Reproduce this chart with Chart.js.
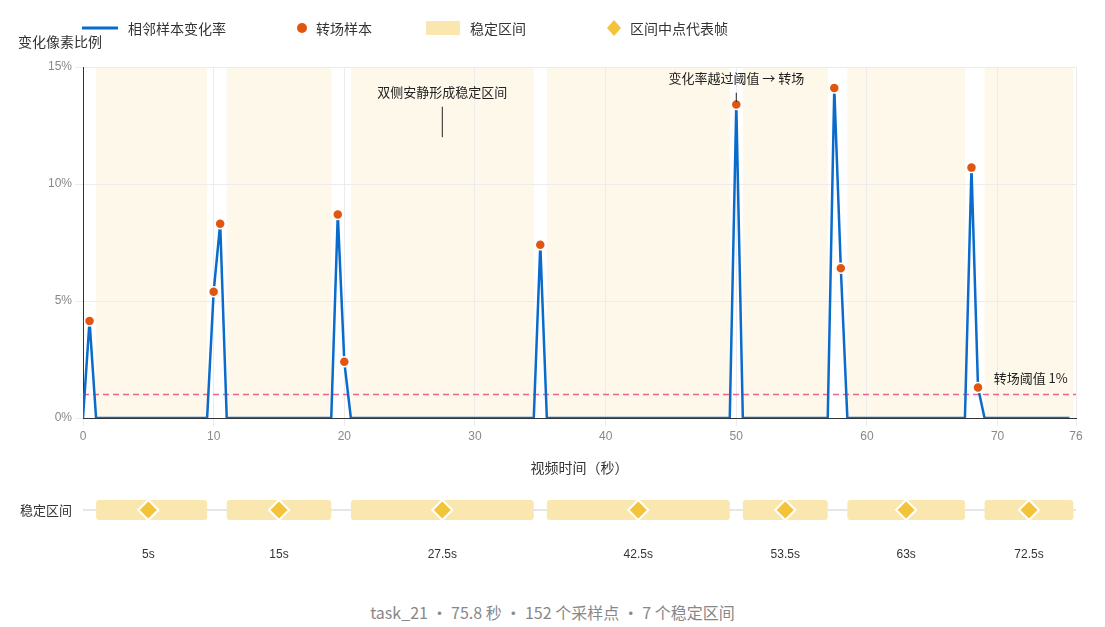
<!DOCTYPE html>
<html>
<head>
<meta charset="utf-8">
<script src="https://cdn.jsdelivr.net/npm/chart.js@4"></script>
<style>
body { margin: 0; background: #fff; font-family: "Noto Sans CJK SC", "Noto Sans", sans-serif; }
#wrap { position: relative; width: 1105px; height: 627px; }
canvas { position: absolute; left: 0; }
#legend { position: absolute; top: 18px; left: 0; width: 1105px; font-size: 14px; color: #333; }
.it { position: absolute; top: 0; height: 20px; line-height: 20px; }
.sw { position: absolute; top: 0; }
#foot { position: absolute; top: 600px; width: 1105px; text-align: center; color: #888; font-size: 16px; }
#ytitle { position: absolute; top: 31px; left: 18px; font-size: 14px; color: #333; }
</style>
</head>
<body>
<div id="wrap">
  <canvas id="main" width="1105" height="480" style="top:0"></canvas>
  <canvas id="strip" width="1105" height="110" style="top:480px"></canvas>
  <div id="ytitle">变化像素比例</div>
  <div id="legend">
    <div class="it" style="left:82px"><svg class="sw" width="38" height="20" style="left:0"><line x1="0" y1="10" x2="36" y2="10" stroke="#0b6bcb" stroke-width="3"/></svg><span style="margin-left:46px">相邻样本变化率</span></div>
    <div class="it" style="left:296px"><svg class="sw" width="12" height="20" style="left:0"><circle cx="6" cy="10" r="5" fill="#e0560f"/></svg><span style="margin-left:20px">转场样本</span></div>
    <div class="it" style="left:426px"><svg class="sw" width="36" height="20" style="left:0"><rect x="0" y="3" width="34" height="14" fill="#fae7b0"/></svg><span style="margin-left:44px">稳定区间</span></div>
    <div class="it" style="left:606px"><svg class="sw" width="18" height="20" style="left:0"><path d="M8 2 L15 10 L8 18 L1 10 Z" fill="#f3c33a"/></svg><span style="margin-left:24px">区间中点代表帧</span></div>
  </div>
  <div id="foot">task_21 · 75.8 秒 · 152 个采样点 · 7 个稳定区间</div>
</div>
<script>
// 采样点（每 0.5 秒一个），非零的变化率
const peakTimes = [0.5, 10, 10.5, 19.5, 20, 35, 50, 57.5, 58, 68, 68.5];
const peakValues = [4.15, 5.4, 8.3, 8.7, 2.4, 7.4, 13.4, 14.1, 6.4, 10.7, 1.3];
const sampleCount = 152;
const step = 0.5;

const stableStart = [1, 11, 20.5, 35.5, 50.5, 58.5, 69];
const stableEnd = [9.5, 19, 34.5, 49.5, 57, 67.5, 75.8];
const midTimes = [5, 15, 27.5, 42.5, 53.75, 63, 72.4];
const midLabels = ['5s', '15s', '27.5s', '42.5s', '53.5s', '63s', '72.5s'];
const threshold = 1;

const xMax = 76;

const rate = [];
for (let i = 0; i < sampleCount; i++) {
    const t = i * step;
    const k = peakTimes.indexOf(t);
    rate.push({ x: t, y: k >= 0 ? peakValues[k] : 0 });
}
const hits = peakTimes.map((t, i) => ({ x: t, y: peakValues[i] }));

const shadePlugin = {
    id: 'shade',
    beforeDraw(chart) {
        const { ctx, chartArea: a, scales: { x } } = chart;
        ctx.save();
        ctx.fillStyle = '#fdf8ea';
        stableStart.forEach((s, i) => {
            const x0 = x.getPixelForValue(s), x1 = x.getPixelForValue(stableEnd[i]);
            ctx.fillRect(x0, a.top, x1 - x0, a.bottom - a.top);
        });
        ctx.restore();
    },
    afterDatasetsDraw(chart) {
        const { ctx, scales: { x, y } } = chart;
        ctx.save();
        ctx.fillStyle = '#222';
        ctx.font = '13px "Noto Sans CJK SC"';
        ctx.textAlign = 'center';
        ctx.fillText('双侧安静形成稳定区间', x.getPixelForValue(27.5), y.getPixelForValue(13.7));
        ctx.fillText('变化率越过阈值 → 转场', x.getPixelForValue(50), y.getPixelForValue(14.3));
        ctx.textAlign = 'left';
        ctx.fillText('转场阈值 1%', x.getPixelForValue(69.7), y.getPixelForValue(1.5));
        ctx.strokeStyle = '#222';
        ctx.lineWidth = 1;
        ctx.beginPath();
        ctx.moveTo(x.getPixelForValue(27.5), y.getPixelForValue(13.3));
        ctx.lineTo(x.getPixelForValue(27.5), y.getPixelForValue(12));
        ctx.moveTo(x.getPixelForValue(50), y.getPixelForValue(13.9));
        ctx.lineTo(x.getPixelForValue(50), y.getPixelForValue(13.5));
        ctx.stroke();
        ctx.restore();
    }
};

new Chart(document.getElementById('main'), {
    type: 'line',
    data: {
        datasets: [
            { data: rate, borderColor: '#0b6bcb', borderWidth: 2.5, pointRadius: 0, tension: 0, order: 2 },
            { type: 'scatter', data: hits, backgroundColor: '#e0560f', borderColor: '#fff', borderWidth: 1.5, pointRadius: 5, order: 1 },
            { data: [{ x: 0, y: threshold }, { x: xMax, y: threshold }], borderColor: '#f06292', borderWidth: 1.5, borderDash: [6, 4], pointRadius: 0, order: 3 }
        ]
    },
    plugins: [shadePlugin],
    options: {
        responsive: false,
        animation: false,
        layout: { padding: { top: 67, right: 29, left: 0 } },
        plugins: { legend: { display: false }, tooltip: { enabled: false } },
        scales: {
            x: {
                type: 'linear', min: 0, max: xMax,
                ticks: { stepSize: 10, color: '#888', font: { size: 12 } },
                grid: { color: '#ececec' },
                border: { color: '#333' },
                title: { display: true, text: '视频时间（秒）', color: '#333', font: { size: 14, family: 'Noto Sans CJK SC' } },
                afterFit(s) { s.height = 62; }
            },
            y: {
                min: 0, max: 15,
                ticks: { stepSize: 5, color: '#888', font: { size: 12 }, callback: v => v + '%' },
                grid: { color: '#ececec' },
                border: { color: '#333' },
                afterFit(s) { s.width = 83; }
            }
        }
    }
});

const stripPlugin = {
    id: 'strip',
    beforeDatasetsDraw(chart) {
        const { ctx, chartArea: a, scales: { x } } = chart;
        const cy = (a.top + a.bottom) / 2;
        ctx.save();
        ctx.strokeStyle = '#e6e6e6';
        ctx.lineWidth = 2;
        ctx.beginPath();
        ctx.moveTo(a.left, cy);
        ctx.lineTo(a.right, cy);
        ctx.stroke();
        ctx.fillStyle = '#fae7b0';
        stableStart.forEach((s, i) => {
            const x0 = x.getPixelForValue(s), x1 = x.getPixelForValue(stableEnd[i]);
            ctx.beginPath();
            ctx.roundRect(x0, cy - 10, x1 - x0, 20, 3);
            ctx.fill();
        });
        ctx.restore();
    }
};

new Chart(document.getElementById('strip'), {
    type: 'scatter',
    data: {
        datasets: [{
            data: midTimes.map(t => ({ x: t, y: 0 })),
            pointStyle: 'rectRot', pointRadius: 10,
            backgroundColor: '#f3c33a', borderColor: '#fff', borderWidth: 2
        }]
    },
    plugins: [stripPlugin],
    options: {
        responsive: false,
        animation: false,
        layout: { padding: { top: 15, right: 29, left: 0 } },
        plugins: { legend: { display: false }, tooltip: { enabled: false } },
        scales: {
            x: {
                type: 'linear', min: 0, max: xMax,
                afterBuildTicks(s) { s.ticks = midTimes.map(v => ({ value: v })); },
                ticks: { color: '#333', font: { size: 12 }, padding: 22, autoSkip: false,
                    callback: (v, i) => midLabels[i] },
                grid: { display: false, drawTicks: false },
                border: { display: false },
                afterFit(s) { s.height = 65; }
            },
            y: {
                min: -1, max: 1,
                afterBuildTicks(s) { s.ticks = [{ value: 0 }]; },
                ticks: { color: '#333', font: { size: 13, family: 'Noto Sans CJK SC' }, callback: () => '稳定区间' },
                grid: { display: false },
                border: { display: false },
                afterFit(s) { s.width = 83; }
            }
        }
    }
});
</script>
</body>
</html>
